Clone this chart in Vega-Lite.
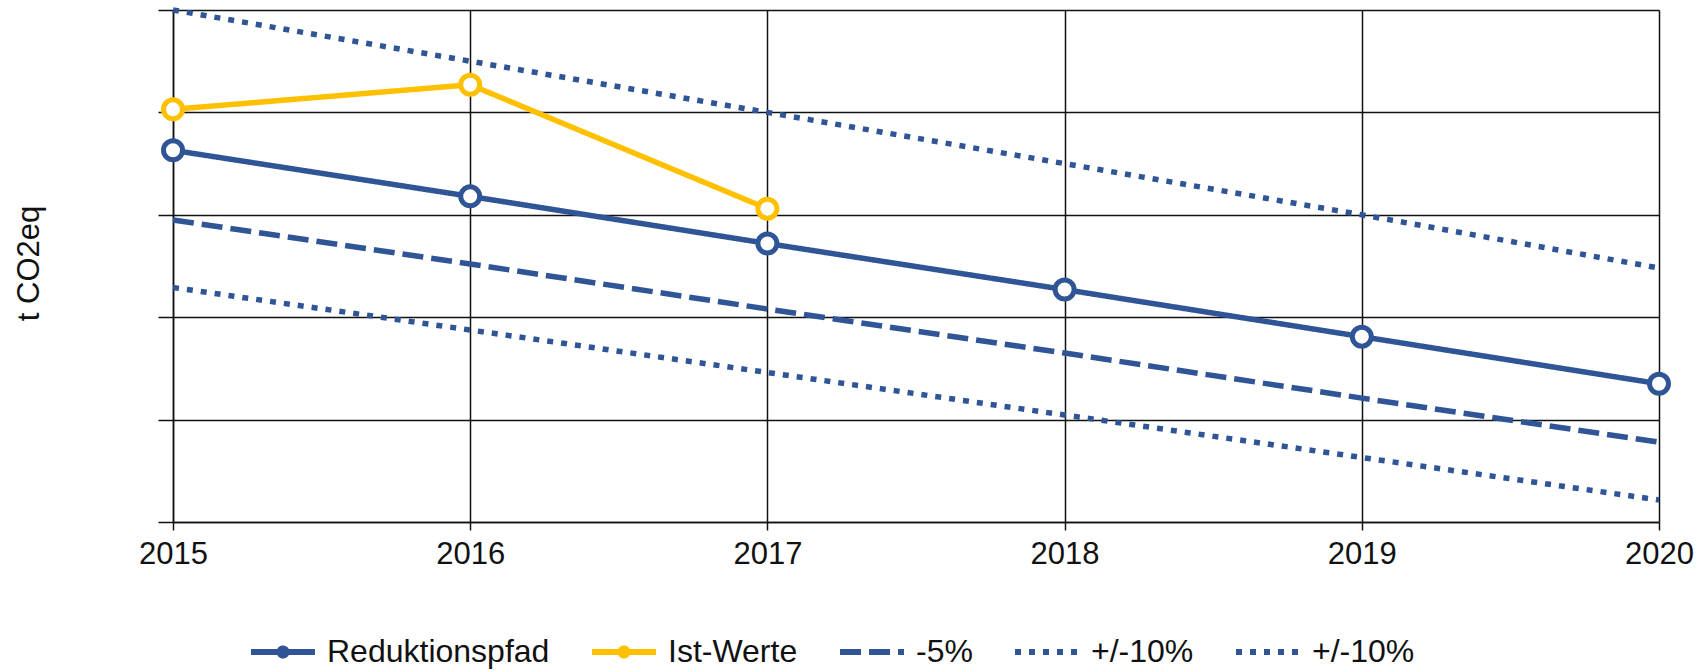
{
  "$schema": "https://vega.github.io/schema/vega-lite/v6.json",
  "autosize": "none",
  "width": 1486,
  "height": 512,
  "padding": {"left": 173, "top": 10, "right": 37, "bottom": 148},
  "background": "white",
  "config": {
    "font": "Liberation Sans",
    "view": {"stroke": null},
    "axis": {
      "gridColor": "#111",
      "gridWidth": 1.5,
      "gridOpacity": 1,
      "tickColor": "#111",
      "tickWidth": 1.5,
      "domainColor": "#111",
      "domainWidth": 1.5,
      "labelFont": "Liberation Sans",
      "labelFontSize": 31,
      "labelColor": "#111",
      "titleFont": "Liberation Sans",
      "titleFontSize": 31,
      "titleFontWeight": "normal",
      "titleColor": "#111"
    }
  },
  "data": {
    "values": [
      {"year": 2015, "value": 3.63, "series": "Reduktionspfad"},
      {"year": 2016, "value": 3.18, "series": "Reduktionspfad"},
      {"year": 2017, "value": 2.72, "series": "Reduktionspfad"},
      {"year": 2018, "value": 2.27, "series": "Reduktionspfad"},
      {"year": 2019, "value": 1.81, "series": "Reduktionspfad"},
      {"year": 2020, "value": 1.35, "series": "Reduktionspfad"},
      {"year": 2015, "value": 4.03, "series": "Ist-Werte"},
      {"year": 2016, "value": 4.27, "series": "Ist-Werte"},
      {"year": 2017, "value": 3.06, "series": "Ist-Werte"},
      {"year": 2015, "value": 2.95, "series": "-5%"},
      {"year": 2016, "value": 2.52, "series": "-5%"},
      {"year": 2017, "value": 2.08, "series": "-5%"},
      {"year": 2018, "value": 1.65, "series": "-5%"},
      {"year": 2019, "value": 1.21, "series": "-5%"},
      {"year": 2020, "value": 0.78, "series": "-5%"},
      {"year": 2015, "value": 5.0, "series": "+/-10% oben"},
      {"year": 2016, "value": 4.5, "series": "+/-10% oben"},
      {"year": 2017, "value": 4.0, "series": "+/-10% oben"},
      {"year": 2018, "value": 3.5, "series": "+/-10% oben"},
      {"year": 2019, "value": 3.0, "series": "+/-10% oben"},
      {"year": 2020, "value": 2.48, "series": "+/-10% oben"},
      {"year": 2015, "value": 2.29, "series": "+/-10% unten"},
      {"year": 2016, "value": 1.875, "series": "+/-10% unten"},
      {"year": 2017, "value": 1.46, "series": "+/-10% unten"},
      {"year": 2018, "value": 1.045, "series": "+/-10% unten"},
      {"year": 2019, "value": 0.63, "series": "+/-10% unten"},
      {"year": 2020, "value": 0.215, "series": "+/-10% unten"}
    ]
  },
  "encoding": {
    "x": {
      "field": "year",
      "type": "quantitative",
      "scale": {"domain": [2015, 2020], "nice": false, "zero": false},
      "axis": {
        "values": [2015, 2016, 2017, 2018, 2019, 2020],
        "format": "d",
        "title": null,
        "tickSize": 8,
        "labelPadding": 9,
        "labelFlush": false,
        "grid": true
      }
    },
    "y": {
      "field": "value",
      "type": "quantitative",
      "scale": {"domain": [0, 5], "nice": false},
      "axis": {
        "values": [0, 1, 2, 3, 4, 5],
        "labels": false,
        "tickSize": 15,
        "grid": true,
        "title": "t CO2eq",
        "titleX": -144,
        "titleY": 253,
        "titleAlign": "center",
        "titleBaseline": "middle",
        "titleAngle": -90
      }
    },
    "color": {
      "field": "series",
      "type": "nominal",
      "scale": {
        "domain": ["Reduktionspfad", "Ist-Werte", "-5%", "+/-10% oben", "+/-10% unten"],
        "range": ["#2F5597", "#FFC000", "#2F5597", "#2F5597", "#2F5597"]
      },
      "legend": {
        "title": null,
        "orient": "none",
        "direction": "horizontal",
        "legendX": 75,
        "legendY": 607,
        "symbolType": "stroke",
        "symbolSize": 4096,
        "symbolStrokeWidth": 6,
        "labelFontSize": 32,
        "labelFont": "Liberation Sans",
        "labelColor": "#111",
        "labelLimit": 500,
        "labelOffset": 9,
        "columnPadding": 30,
        "labelExpr": "indexof(datum.label, '+/-10%') == 0 ? '+/-10%' : datum.label",
        "encode": {
          "symbols": {
            "update": {
              "shape": {"signal": "datum.value == 'Reduktionspfad' || datum.value == 'Ist-Werte' ? 'M-1,0L1,0M0.11,0A0.11,0.11 0 1 1 -0.11,0A0.11,0.11 0 1 1 0.11,0Z' : 'stroke'"}
            }
          }
        }
      }
    }
  },
  "layer": [
    {
      "mark": {"type": "line", "strokeWidth": 5.5},
      "encoding": {
        "strokeDash": {
          "field": "series",
          "type": "nominal",
          "scale": {
            "domain": ["Reduktionspfad", "Ist-Werte", "-5%", "+/-10% oben", "+/-10% unten"],
            "range": [[1, 0], [1, 0], [21, 8], [6, 8], [6, 8]]
          }
        }
      }
    },
    {
      "transform": [{"filter": "datum.series == 'Reduktionspfad' || datum.series == 'Ist-Werte'"}],
      "mark": {"type": "point", "shape": "circle", "filled": false, "fill": "white", "fillOpacity": 1, "opacity": 1, "size": 361, "strokeWidth": 5}
    }
  ]
}
